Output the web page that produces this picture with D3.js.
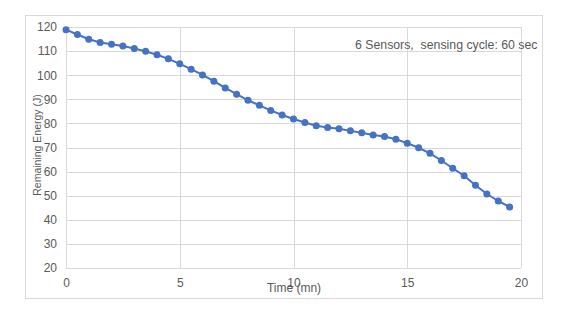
<!DOCTYPE html>
<html>
<head>
<meta charset="utf-8">
<script src="https://cdn.jsdelivr.net/npm/d3@7"></script>
<style>
  body { margin: 0; background: #fff; }
  text { font-family: "Liberation Sans", Arial, sans-serif; fill: #595959; }
</style>
</head>
<body>
<div id="chart"></div>
<script>
// data: remaining energy every half minute
var times = [0, 0.5, 1, 1.5, 2, 2.5, 3, 3.5, 4, 4.5, 5, 5.5, 6, 6.5, 7, 7.5, 8, 8.5, 9, 9.5,
  10, 10.5, 11, 11.5, 12, 12.5, 13, 13.5, 14, 14.5, 15, 15.5, 16, 16.5, 17, 17.5, 18, 18.5, 19, 19.5];
var energy = [118.9, 116.9, 114.9, 113.6, 112.8, 112.1, 111.1, 109.9, 108.5, 106.8,
  104.7, 102.5, 100.1, 97.5, 94.7, 92.1, 89.6, 87.5, 85.4, 83.5,
  81.8, 80.4, 79.0, 78.3, 77.8, 76.9, 76.1, 75.2, 74.6, 73.4,
  71.8, 69.9, 67.6, 64.6, 61.4, 58.3, 54.3, 50.7, 47.8, 45.3];
var xTicks = [0, 5, 10, 15, 20];
var yTicks = [20, 30, 40, 50, 60, 70, 80, 90, 100, 110, 120];
var annotation = "6 Sensors,  sensing cycle: 60 sec";

var W = 571, H = 316;
var margin = { top: 27, right: 50, bottom: 48, left: 66 };
var width = 521 - margin.left;
var height = 268 - margin.top;

var svg = d3.select("#chart").append("svg")
  .attr("width", W)
  .attr("height", H);

// outer chart border
svg.append("rect")
  .attr("x", 25.5).attr("y", 15.5)
  .attr("width", 517).attr("height", 283)
  .attr("fill", "none")
  .attr("stroke", "#d9d9d9");

var g = svg.append("g")
  .attr("transform", "translate(" + margin.left + "," + margin.top + ")");

var x = d3.scaleLinear().domain([0, 20]).range([0, width]);
var y = d3.scaleLinear().domain([20, 120]).range([height, 0]);

// gridlines
g.append("g")
  .selectAll("line.h")
  .data(yTicks)
  .enter().append("line")
  .attr("x1", 0).attr("x2", width)
  .attr("y1", function (d) { return Math.round(y(d)) + 0.5; })
  .attr("y2", function (d) { return Math.round(y(d)) + 0.5; })
  .attr("stroke", "#d9d9d9");

g.append("g")
  .selectAll("line.v")
  .data(xTicks)
  .enter().append("line")
  .attr("y1", 0).attr("y2", height)
  .attr("x1", function (d) { return Math.round(x(d)) + 0.5; })
  .attr("x2", function (d) { return Math.round(x(d)) + 0.5; })
  .attr("stroke", "#d9d9d9");

// axes (labels only)
var xAxis = d3.axisBottom(x).tickValues(xTicks).tickSize(0).tickPadding(10);
var yAxis = d3.axisLeft(y).tickValues(yTicks).tickSize(0).tickPadding(9);

g.append("g")
  .attr("transform", "translate(0," + height + ")")
  .call(xAxis)
  .call(function (s) { s.select(".domain").remove(); })
  .selectAll("text").style("font-size", "12px").attr("fill", "#595959");

g.append("g")
  .call(yAxis)
  .call(function (s) { s.select(".domain").remove(); })
  .selectAll("text").style("font-size", "12px").attr("fill", "#595959");

// series
var data = times.map(function (t, i) { return { t: t, e: energy[i] }; });

var line = d3.line()
  .x(function (d) { return x(d.t); })
  .y(function (d) { return y(d.e); });

g.append("path")
  .datum(data)
  .attr("fill", "none")
  .attr("stroke", "#4472C4")
  .attr("stroke-width", 2)
  .attr("d", line);

g.selectAll(".dot")
  .data(data)
  .enter().append("circle")
  .attr("class", "dot")
  .attr("cx", function (d) { return x(d.t); })
  .attr("cy", function (d) { return y(d.e); })
  .attr("r", 3.5)
  .attr("fill", "#4472C4");

// titles
svg.append("text")
  .attr("x", 294)
  .attr("y", 292)
  .attr("text-anchor", "middle")
  .style("font-size", "12px")
  .text("Time (mn)");

svg.append("text")
  .attr("transform", "translate(41,145) rotate(-90)")
  .attr("text-anchor", "middle")
  .style("font-size", "10.5px")
  .text("Remaining Energy (J)");

svg.append("text")
  .attr("x", 355)
  .attr("y", 49)
  .style("font-size", "12.3px")
  .style("white-space", "pre")
  .text(annotation);
</script>
</body>
</html>
